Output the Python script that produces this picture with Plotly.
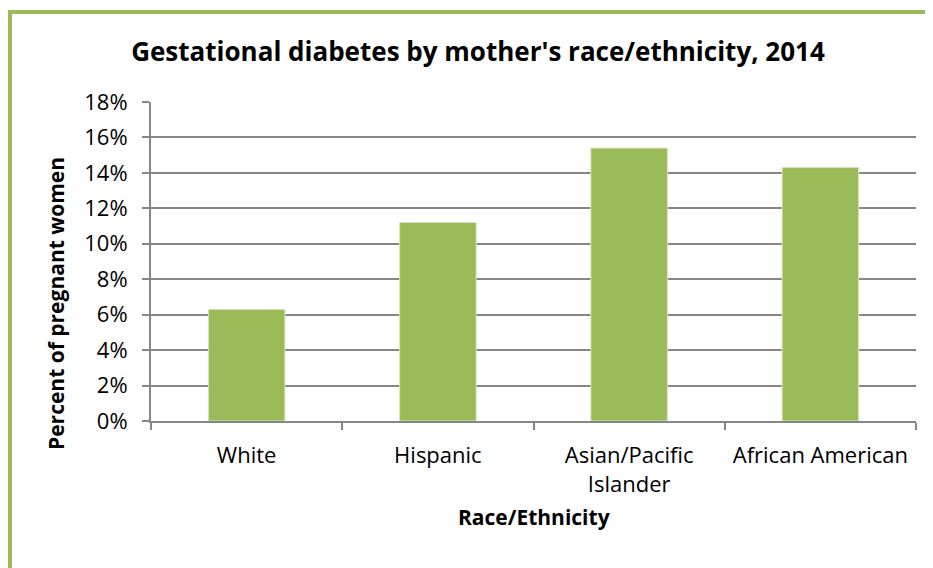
import plotly.graph_objects as go

categories = ["White", "Hispanic", "Asian/Pacific<br>Islander", "African American"]
values = [6.3, 11.2, 15.4, 14.3]
tick_vals = [0, 2, 4, 6, 8, 10, 12, 14, 16, 18]
tick_text = [f"{v}%" for v in tick_vals]

# page offset of 8px (default body margin) is compensated here
OFF = 8
W, H = 933 - OFF, 568 - OFF
L, T = 151 - OFF, 102 - OFF
R = W - (916 - OFF)
B = H - (421 - OFF)
pw, ph = W - L - R, H - T - B

def px_x(x):
    return (x - OFF - L) / pw

def px_y(y):
    return (H - B - (y - OFF)) / ph

font = "Open Sans"

fig = go.Figure(go.Bar(
    x=categories, y=values,
    marker=dict(color="#9BBB59", line=dict(color="#D7E4BD", width=1)),
    width=0.4,
))

fig.update_layout(
    width=W, height=H,
    margin=dict(l=L, r=R, t=T, b=B),
    paper_bgcolor="white", plot_bgcolor="white",
    showlegend=False,
    title=dict(text="<b>Gestational diabetes by mother's race/ethnicity, 2014</b>",
               x=(478 - OFF) / W, xanchor="center", y=1 - (52 - OFF) / H, yanchor="middle",
               font=dict(family=font, size=26, color="black")),
    font=dict(family=font, color="black"),
    xaxis=dict(
        showline=True, linecolor="#868686", linewidth=2,
        ticks="outside", tickson="boundaries", ticklen=7, tickcolor="#868686", tickwidth=2,
        tickfont=dict(size=22, family=font), ticklabelstandoff=14,
        showgrid=False,
    ),
    yaxis=dict(
        range=[0, 18], tickvals=tick_vals, ticktext=tick_text,
        showline=True, linecolor="#868686", linewidth=2,
        ticks="outside", ticklen=7, tickcolor="#868686", tickwidth=2,
        showgrid=True, gridcolor="#868686", gridwidth=1.5,
        zeroline=False, ticklabelstandoff=10,
        tickfont=dict(size=22, family=font),
    ),
    annotations=[
        dict(text="<b>Race/Ethnicity</b>", xref="paper", yref="paper",
             x=px_x(534), y=px_y(517), xanchor="center", yanchor="middle",
             showarrow=False, font=dict(size=21, family=font, color="black")),
        dict(text="<b>Percent of pregnant women</b>", xref="paper", yref="paper",
             x=px_x(56), y=px_y(304), xanchor="center", yanchor="middle", textangle=-90,
             showarrow=False, font=dict(size=21, family=font, color="black")),
    ],
    shapes=[dict(type="rect", xref="paper", yref="paper",
                 x0=px_x(10), x1=px_x(933 + 20), y0=px_y(568 + 20), y1=px_y(12),
                 line=dict(color="#9BBB59", width=4), layer="below")],
)

fig.write_html("out.html")
